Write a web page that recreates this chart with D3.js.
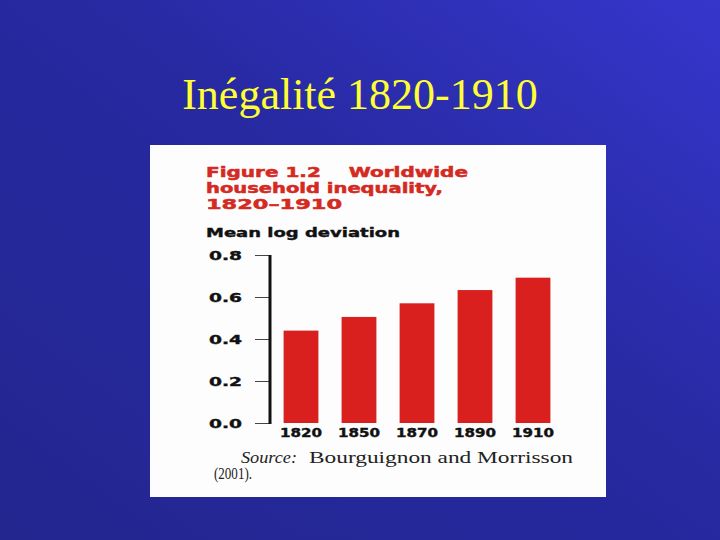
<!DOCTYPE html>
<html>
<head>
<meta charset="utf-8">
<script src="https://cdn.jsdelivr.net/npm/d3@7"></script>
<style>
  body { margin: 0; padding: 0; overflow: hidden; }
</style>
</head>
<body>
<div id="chart"></div>
<script>
// data
const years = ["1820", "1850", "1870", "1890", "1910"];
const meanLogDev = [0.44, 0.505, 0.57, 0.633, 0.692];
const yTicks = [0.0, 0.2, 0.4, 0.6, 0.8];

const slideTitle = "Inégalité 1820-1910";
const figTitle = ["Figure 1.2    Worldwide", "household inequality,", "1820\u20131910"];
const figTitleWidths = [262, 237, 136];
const yLabel = "Mean log deviation";

const W = 720, H = 540;
const heavy = "DejaVu Sans, Arial, sans-serif";
const serif = "Liberation Serif, Times New Roman, serif";

const svg = d3.select("#chart").append("svg")
    .attr("width", W)
    .attr("height", H);

// slide background
const defs = svg.append("defs");
const grad = defs.append("linearGradient")
    .attr("id", "bg")
    .attr("x1", "0").attr("y1", "1")
    .attr("x2", "1").attr("y2", "0");
grad.append("stop").attr("offset", "0").attr("stop-color", "#23268f");
grad.append("stop").attr("offset", "0.55").attr("stop-color", "#2629a0");
grad.append("stop").attr("offset", "1").attr("stop-color", "#3636cc");

svg.append("rect")
    .attr("width", W).attr("height", H)
    .attr("fill", "url(#bg)");

svg.append("text")
    .attr("x", 360).attr("y", 109)
    .attr("text-anchor", "middle")
    .attr("font-family", serif)
    .attr("font-size", 44)
    .attr("fill", "#ffff33")
    .text(slideTitle);

// white scanned panel
svg.append("rect")
    .attr("x", 150).attr("y", 145)
    .attr("width", 456).attr("height", 352)
    .attr("fill", "#fdfdfd");

// figure heading (wide heavy grotesque in the scan -> stretch)
figTitle.forEach(function (t, i) {
    svg.append("text")
        .attr("x", 206)
        .attr("y", 177 + i * 16)
        .attr("font-family", heavy)
        .attr("font-weight", "bold")
        .attr("font-size", 14)
        .attr("fill", "#d42a22")
        .attr("stroke", "#d42a22")
        .attr("stroke-width", 0.5)
        .attr("xml:space", "preserve")
        .attr("textLength", figTitleWidths[i])
        .attr("lengthAdjust", "spacingAndGlyphs")
        .text(t);
});

svg.append("text")
    .attr("x", 206).attr("y", 237)
    .attr("font-family", heavy)
    .attr("font-weight", "bold")
    .attr("font-size", 13)
    .attr("fill", "#111")
    .attr("stroke", "#111")
    .attr("stroke-width", 0.4)
    .attr("textLength", 194)
    .attr("lengthAdjust", "spacingAndGlyphs")
    .text(yLabel);

// scales
const x = d3.scaleBand()
    .domain(years)
    .range([272, 562])
    .paddingInner(0.4)
    .paddingOuter(0.2);

const y = d3.scaleLinear()
    .domain([0, 0.8])
    .range([423, 255]);

// y axis
const yAxis = svg.append("g")
    .attr("transform", "translate(270,0)")
    .call(d3.axisLeft(y)
        .tickValues(yTicks)
        .tickFormat(d3.format(".1f"))
        .tickSize(15)
        .tickPadding(13));

yAxis.select(".domain").remove();
yAxis.selectAll(".tick line")
    .attr("stroke", "#444")
    .attr("stroke-width", 1);
yAxis.selectAll(".tick text")
    .attr("font-family", heavy)
    .attr("font-weight", "bold")
    .attr("font-size", 13)
    .attr("fill", "#111")
    .attr("stroke", "#111")
    .attr("stroke-width", 0.4)
    .attr("textLength", 33)
    .attr("lengthAdjust", "spacingAndGlyphs");

svg.append("line")
    .attr("x1", 270).attr("x2", 270)
    .attr("y1", y(0.8)).attr("y2", y(0) + 1)
    .attr("stroke", "#111")
    .attr("stroke-width", 3);

// bars
svg.selectAll("rect.bar")
    .data(meanLogDev)
    .enter()
    .append("rect")
    .attr("class", "bar")
    .attr("x", function (d, i) { return x(years[i]); })
    .attr("width", x.bandwidth())
    .attr("y", function (d) { return y(d); })
    .attr("height", function (d) { return y(0) - y(d); })
    .attr("fill", "#da1f1f");

// year labels
const xAxis = svg.append("g")
    .attr("transform", "translate(0," + y(0) + ")")
    .call(d3.axisBottom(x).tickSize(0).tickPadding(5));
xAxis.select(".domain").remove();
xAxis.selectAll(".tick text")
    .attr("font-family", heavy)
    .attr("font-weight", "bold")
    .attr("font-size", 12)
    .attr("fill", "#111")
    .attr("stroke", "#111")
    .attr("stroke-width", 0.4)
    .attr("textLength", 42)
    .attr("lengthAdjust", "spacingAndGlyphs");

// source note
const srcParts = [
    {t: "Source:", x: 241, y: 463, w: 56, italic: true},
    {t: "Bourguignon and Morrisson", x: 309, y: 463, w: 264, italic: false},
    {t: "(2001).", x: 214, y: 479, w: 38, italic: false}
];
srcParts.forEach(function (p) {
    svg.append("text")
        .attr("x", p.x).attr("y", p.y)
        .attr("font-family", serif)
        .attr("font-size", 16)
        .attr("font-style", p.italic ? "italic" : "normal")
        .attr("fill", "#222")
        .attr("textLength", p.w)
        .attr("lengthAdjust", "spacingAndGlyphs")
        .text(p.t);
});
</script>
</body>
</html>
